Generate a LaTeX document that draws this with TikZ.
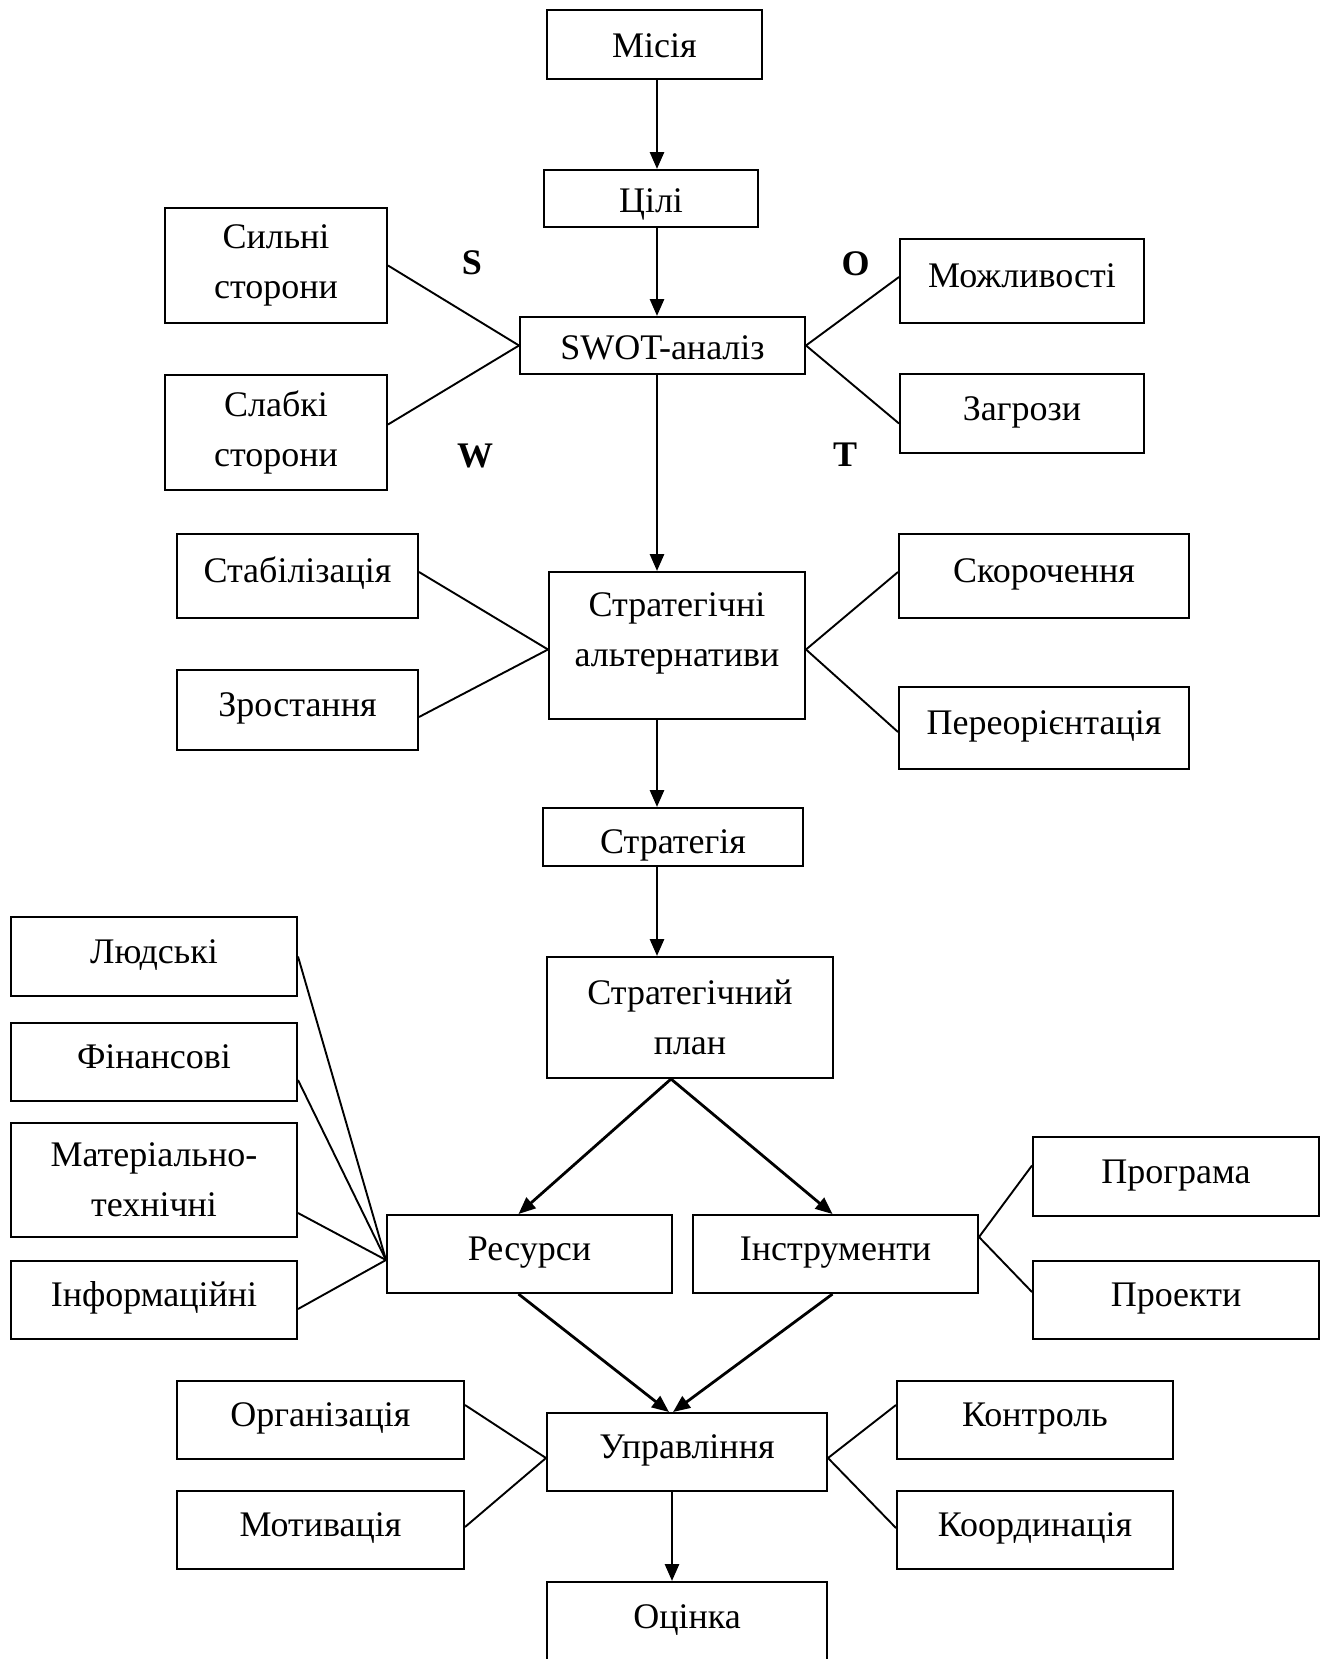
\documentclass[tikz,border=0pt]{standalone}
\usepackage{fontspec}
\setmainfont{Liberation Serif}
\usetikzlibrary{arrows.meta}

\begin{document}
\begin{tikzpicture}[x=1pt,y=-1pt,font=\fontsize{36}{50}\selectfont,
	box/.style={draw,line width=2pt,inner sep=0pt,text height=25pt,text depth=12pt},
	box2/.style={draw,line width=2pt,inner sep=0pt,align=center},
	low/.style={text height=27pt,text depth=0pt},
	arr/.style={line width=2.8pt,-{Triangle[length=17pt,width=14pt]}},
	ln/.style={line width=1.9pt},
	letter/.style={font=\fontsize{36}{50}\selectfont\bfseries,inner sep=0pt}]
	\useasboundingbox (0,0) rectangle (1330,1659);
	\coordinate (ax) at (657,0);
	\coordinate (bx) at (672,0);
	
	% main chain
	\node[box,low,minimum width=215pt,minimum height=69pt] (mis) at (654.5,44.5) {Місія};
	\node[box,low,minimum width=214pt,minimum height=57pt] (cil) at (651,198.5) {Цілі};
	\node[box,low,minimum width=285pt,minimum height=57pt] (swot) at (662.5,345.5) {SWOT-аналіз};
	\node[box2,minimum width=256pt,minimum height=147pt] (alt) at (677,645.5) {Стратегічні\\альтернативи\rule[-32pt]{0pt}{32pt}};
	\node[box,minimum width=260pt,minimum height=58pt,text height=32pt,text depth=0pt] (strat) at (673,837) {Стратегія};
	\node[box2,minimum width=286pt,minimum height=121pt] (plan) at (690,1017.5) {Стратегічний\\план};
	\node[box,minimum width=285pt,minimum height=78pt] (res) at (529.5,1254) {Ресурси};
	\node[box,minimum width=285pt,minimum height=78pt] (instr) at (835.5,1254) {Інструменти};
	\node[box,minimum width=280pt,minimum height=78pt] (upr) at (687,1452) {Управління};
	\node[box,minimum width=280pt,minimum height=80pt] (ots) at (687,1622) {Оцінка};
	
	% SWOT
	\node[box2,minimum width=222pt,minimum height=115pt] (sil) at (276,265.5) {Сильні\\сторони};
	\node[box2,minimum width=222pt,minimum height=115pt] (slab) at (276,432.5) {Слабкі\\сторони};
	\node[box,minimum width=244pt,minimum height=84pt] (mozh) at (1022,281) {Можливості};
	\node[box,minimum width=244pt,minimum height=79pt] (zagr) at (1022,413.5) {Загрози};
	\node[letter] (s) at (472,263) {S};
	\node[letter] (w) at (475,456) {W};
	\node[letter] (o) at (855.5,264) {O};
	\node[letter] (t) at (845,455) {T};
	
	% alternatives
	\node[box,minimum width=241pt,minimum height=84pt] (stab) at (297.5,576) {Стабілізація};
	\node[box,minimum width=241pt,minimum height=80pt] (zrost) at (297.5,710) {Зростання};
	\node[box,minimum width=290pt,minimum height=84pt] (skor) at (1044,576) {Скорочення};
	\node[box,minimum width=290pt,minimum height=82pt] (pereor) at (1044,728) {Переорієнтація};
	
	% resources and tools
	\node[box,minimum width=286pt,minimum height=79pt] (lyud) at (154,956.5) {Людські};
	\node[box,minimum width=286pt,minimum height=78pt] (fin) at (154,1062) {Фінансові};
	\node[box2,minimum width=286pt,minimum height=114pt] (mat) at (154,1180) {Матеріально-\\технічні};
	\node[box,minimum width=286pt,minimum height=78pt] (inf) at (154,1300) {Інформаційні};
	\node[box,minimum width=286pt,minimum height=79pt] (prog) at (1176,1176.5) {Програма};
	\node[box,minimum width=286pt,minimum height=78pt] (proj) at (1176,1300) {Проекти};
	
	% management
	\node[box,minimum width=287pt,minimum height=78pt] (org) at (320.5,1420) {Організація};
	\node[box,minimum width=287pt,minimum height=78pt] (mot) at (320.5,1530) {Мотивація};
	\node[box,minimum width=276pt,minimum height=78pt] (kontr) at (1035,1420) {Контроль};
	\node[box,minimum width=276pt,minimum height=78pt] (koord) at (1035,1530) {Координація};
	
	\path (mis.south -| ax) edge[arr] (cil.north -| ax);
	\path (cil.south -| ax) edge[arr] (swot.north -| ax);
	\path (swot.south -| ax) edge[arr] (alt.north -| ax);
	\path (alt.south -| ax) edge[arr] (strat.north -| ax);
	\path (strat.south -| ax) edge[arr] (plan.north -| ax);
	\path ([xshift=-19pt]plan.south) edge[arr] ([xshift=-11pt]res.north);
	\path ([xshift=-19pt]plan.south) edge[arr] ([xshift=-3pt]instr.north);
	\path ([xshift=-11pt]res.south) edge[arr] ([xshift=-18pt]upr.north);
	\path ([xshift=-3pt]instr.south) edge[arr] ([xshift=-14pt]upr.north);
	\path (upr.south -| bx) edge[arr] (ots.north -| bx);
	
	\path (sil.east) edge[ln] (swot.west);
	\path ([yshift=8pt]slab.east) edge[ln] (swot.west);
	\path ([yshift=4pt]mozh.west) edge[ln] (swot.east);
	\path ([yshift=-10pt]zagr.west) edge[ln] (swot.east);
	
	\path ([yshift=4pt]stab.east) edge[ln] ([yshift=-4pt]alt.west);
	\path ([yshift=-7pt]zrost.east) edge[ln] ([yshift=-4pt]alt.west);
	\path ([yshift=4pt]skor.west) edge[ln] ([yshift=-4pt]alt.east);
	\path ([yshift=-4pt]pereor.west) edge[ln] ([yshift=-4pt]alt.east);
	
	\path (lyud.east) edge[ln] ([yshift=-6pt]res.west);
	\path ([yshift=-18pt]fin.east) edge[ln] ([yshift=-6pt]res.west);
	\path ([yshift=-33pt]mat.east) edge[ln] ([yshift=-6pt]res.west);
	\path ([yshift=-9pt]inf.east) edge[ln] ([yshift=-6pt]res.west);
	\path ([yshift=11pt]prog.west) edge[ln] ([yshift=17pt]instr.east);
	\path ([yshift=8pt]proj.west) edge[ln] ([yshift=17pt]instr.east);
	
	\path ([yshift=15pt]org.east) edge[ln] ([yshift=-6pt]upr.west);
	\path ([yshift=3pt]mot.east) edge[ln] ([yshift=-6pt]upr.west);
	\path ([yshift=15pt]kontr.west) edge[ln] ([yshift=-6pt]upr.east);
	\path ([yshift=2pt]koord.west) edge[ln] ([yshift=-6pt]upr.east);
\end{tikzpicture}
\end{document}
